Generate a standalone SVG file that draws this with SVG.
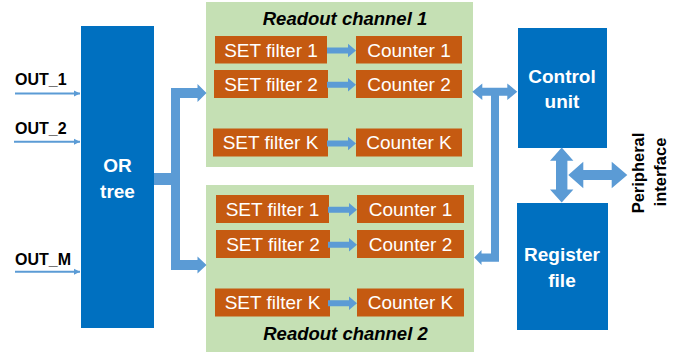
<svg xmlns="http://www.w3.org/2000/svg" xmlns:xlink="http://www.w3.org/1999/xlink" width="691" height="352" viewBox="0 0 691 352">
<style>
.blue{fill:#0070C0}
.ch{fill:#C5E0B4}
.or{fill:#C55A11}
.arr{fill:#5B9BD5}
.wt{fill:#fff;font-family:"Liberation Sans",Arial,sans-serif;font-size:19px;text-anchor:middle}
.bt{fill:#fff;font-family:"Liberation Sans",Arial,sans-serif;font-size:19px;font-weight:bold;text-anchor:middle}
.title{fill:#000;font-family:"Liberation Sans",Arial,sans-serif;font-size:18.5px;font-weight:bold;font-style:italic;text-anchor:middle}
.lbl{fill:#000;font-family:"Liberation Sans",Arial,sans-serif;font-size:16px;font-weight:bold}
.per{fill:#000;font-family:"Liberation Sans",Arial,sans-serif;font-size:16.5px;font-weight:bold;text-anchor:middle}
.inl{stroke:#5B9BD5;stroke-width:2;fill:none}
</style>
<defs>
<path id="sa" class="arr" d="M0,-3 H21 V-6.7 L29,0 L21,6.7 V3 H0 Z"/>
<marker id="ah" markerWidth="7" markerHeight="7" refX="6" refY="3.5" orient="auto" markerUnits="userSpaceOnUse">
<path d="M0,0.5 L6,3.5 L0,6.5 Z" fill="#5B9BD5"/>
</marker>
</defs>

<g id="inputs">
<text class="lbl" x="15" y="85">OUT_1</text>
<line class="inl" x1="15" y1="93.5" x2="80" y2="93.5" marker-end="url(#ah)"/>
<text class="lbl" x="15" y="134">OUT_2</text>
<line class="inl" x1="14" y1="141.8" x2="80" y2="141.8" marker-end="url(#ah)"/>
<text class="lbl" x="15" y="265">OUT_M</text>
<line class="inl" x1="15" y1="271.8" x2="80" y2="271.8" marker-end="url(#ah)"/>
</g>

<g id="or-tree">
<rect class="blue" x="81" y="26" width="73" height="302"/>
<text class="bt" x="117.5" y="172">OR</text>
<text class="bt" x="117.5" y="198">tree</text>
</g>

<g id="readout-channel-1">
<rect class="ch" x="206" y="2" width="267" height="165"/>
<text class="title" x="345" y="25">Readout channel 1</text>
<rect class="or" x="215" y="36" width="112" height="27.5"/>
<text class="wt" x="271" y="56.5">SET filter 1</text>
<rect class="or" x="356" y="36" width="106" height="27.5"/>
<text class="wt" x="409" y="56.5">Counter 1</text>
<rect class="or" x="214" y="70" width="114" height="28"/>
<text class="wt" x="271" y="90.5">SET filter 2</text>
<rect class="or" x="356" y="70" width="106" height="28"/>
<text class="wt" x="409" y="90.5">Counter 2</text>
<rect class="or" x="213" y="128.5" width="115" height="28"/>
<text class="wt" x="270.5" y="149">SET filter K</text>
<rect class="or" x="356" y="128.5" width="106" height="28"/>
<text class="wt" x="409" y="149">Counter K</text>
</g>

<g id="readout-channel-2">
<rect class="ch" x="206" y="185" width="268" height="167"/>
<text class="title" x="345.5" y="340">Readout channel 2</text>
<rect class="or" x="216" y="195" width="113" height="28"/>
<text class="wt" x="272.5" y="215.5">SET filter 1</text>
<rect class="or" x="357" y="195" width="107" height="28"/>
<text class="wt" x="410.5" y="215.5">Counter 1</text>
<rect class="or" x="216" y="230" width="114" height="28"/>
<text class="wt" x="273" y="250.5">SET filter 2</text>
<rect class="or" x="357" y="230" width="107" height="28"/>
<text class="wt" x="410.5" y="250.5">Counter 2</text>
<rect class="or" x="215" y="288.5" width="115" height="28"/>
<text class="wt" x="272.5" y="309">SET filter K</text>
<rect class="or" x="357" y="288.5" width="107" height="28"/>
<text class="wt" x="410.5" y="309">Counter K</text>
</g>

<g id="control-unit">
<rect class="blue" x="518" y="28" width="89" height="120"/>
<text class="bt" x="562" y="83">Control</text>
<text class="bt" x="562" y="108">unit</text>
</g>

<g id="register-file">
<rect class="blue" x="517" y="203" width="91" height="127"/>
<text class="bt" x="562" y="261">Register</text>
<text class="bt" x="562" y="287">file</text>
</g>

<g id="peripheral-interface">
<text class="per" transform="translate(644,173) rotate(-90)">Peripheral</text>
<text class="per" transform="translate(665.5,172) rotate(-90)">interface</text>
</g>

<g id="connectors">
<path class="arr" d="M154,173 H171 V88 H197.5 V84 L206.5,93 L197.5,102 V98 H180 V260 H197.5 V256.5 L206.5,265 L197.5,273.5 V270 H171 V185 H154 Z"/>
<use xlink:href="#sa" href="#sa" x="327" y="50.5"/>
<use xlink:href="#sa" href="#sa" x="327" y="84.8"/>
<use xlink:href="#sa" href="#sa" x="327" y="143.5"/>
<use xlink:href="#sa" href="#sa" x="328" y="209.8"/>
<use xlink:href="#sa" href="#sa" x="328" y="244.8"/>
<use xlink:href="#sa" href="#sa" x="328" y="303.2"/>
<path class="arr" d="M472.3,91.7 L482.3,83.4 V87.7 H507.3 V83.4 L517.3,91.7 L507.3,100 V95.7 H499 V261.7 H481.5 V265 L474.3,257.5 L481.5,250 V253.5 H491 V95.7 H482.3 V100 Z"/>
<path class="arr" d="M561.7,147.5 L573.4,160.8 H567.4 V189.5 H573.4 L561.7,202.5 L550,189.5 H556 V160.8 H550 Z"/>
<path class="arr" d="M568.3,175 L583.3,161.7 V170 H611.7 V161.7 L627.3,175 L611.7,188.3 V180 H583.3 V188.3 Z"/>
</g>
</svg>
